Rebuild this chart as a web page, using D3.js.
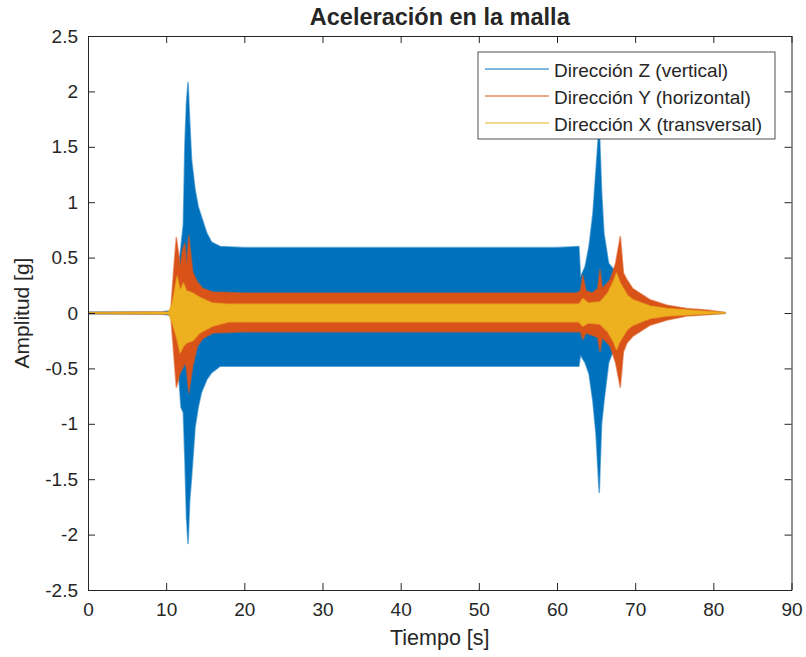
<!DOCTYPE html>
<html>
<head>
<meta charset="utf-8">
<script src="https://cdn.jsdelivr.net/npm/d3@7"></script>
<style>
  html, body { margin: 0; padding: 0; background: #fff; }
  svg { display: block; }
  text { font-family: "Liberation Sans", Arial, Helvetica, sans-serif; fill: #262626; }
</style>
</head>
<body>
<svg id="chart" width="806" height="657"></svg>
<script>
// ---- Data (envelope of each acceleration record) ----
const seriesNames = ["Dirección Z (vertical)", "Dirección Y (horizontal)", "Dirección X (transversal)"];
const seriesColors = ["#0072BD", "#D95319", "#EDB120"];

// Z (vertical) envelope
const zTime  = [0, 5, 9.5, 10.5, 11.0, 11.5, 11.9, 12.2, 12.4, 12.6, 12.8, 13.0, 13.25, 13.7, 14.1, 14.5, 15.2, 15.8, 16.9, 20, 30, 40, 50, 60, 62.8, 63.0, 63.6, 64.1, 64.6, 65.0, 65.4, 65.7, 66.0, 66.6, 67.4, 68.5, 70, 72, 75, 78, 81.5];
const zUpper = [0.008, 0.008, 0.01, 0.02, 0.1, 0.35, 0.6, 0.8, 1.53, 1.9, 2.08, 1.74, 1.38, 1.11, 0.96, 0.87, 0.72, 0.64, 0.6, 0.59, 0.59, 0.59, 0.59, 0.59, 0.6, 0.32, 0.42, 0.6, 0.9, 1.3, 1.7, 1.1, 0.72, 0.45, 0.38, 0.25, 0.12, 0.06, 0.03, 0.015, 0.002];
const zLower = [-0.008, -0.008, -0.01, -0.02, -0.1, -0.45, -0.85, -0.9, -1.33, -1.84, -2.08, -1.7, -1.48, -1.03, -0.85, -0.72, -0.6, -0.54, -0.48, -0.48, -0.48, -0.48, -0.48, -0.48, -0.48, -0.38, -0.45, -0.55, -0.8, -1.1, -1.62, -1.0, -0.8, -0.45, -0.3, -0.22, -0.1, -0.05, -0.025, -0.012, -0.002];

// Y (horizontal) envelope
const yTime  = [0, 10.3, 10.6, 11.0, 11.3, 11.8, 12.1, 12.4, 12.6, 12.9, 13.4, 14.0, 14.7, 16.0, 20, 40, 62.5, 63.0, 63.3, 63.7, 64.5, 65.2, 65.5, 65.8, 66.8, 67.5, 68.1, 68.5, 68.95, 69.7, 71.9, 74.1, 76.6, 79.2, 81.5];
const yUpper = [0.005, 0.01, 0.03, 0.42, 0.68, 0.42, 0.57, 0.63, 0.42, 0.7, 0.37, 0.28, 0.22, 0.19, 0.18, 0.18, 0.18, 0.2, 0.34, 0.2, 0.18, 0.22, 0.39, 0.22, 0.3, 0.45, 0.69, 0.36, 0.3, 0.22, 0.12, 0.07, 0.04, 0.027, 0.005];
const yLower = [-0.005, -0.01, -0.03, -0.39, -0.67, -0.54, -0.5, -0.45, -0.5, -0.72, -0.48, -0.3, -0.23, -0.18, -0.17, -0.17, -0.17, -0.17, -0.24, -0.18, -0.2, -0.22, -0.35, -0.22, -0.3, -0.45, -0.67, -0.35, -0.27, -0.21, -0.11, -0.063, -0.027, -0.015, -0.002];

// X (transversal) envelope
const xTime  = [0, 10.3, 10.8, 11.4, 11.8, 12.2, 12.6, 13.4, 14.3, 15.9, 18, 40, 62.8, 63.3, 64.0, 65.5, 66.5, 67.3, 67.6, 68.1, 69.0, 69.7, 71.9, 74.1, 78, 81.5];
const xUpper = [0.004, 0.008, 0.09, 0.33, 0.2, 0.27, 0.2, 0.18, 0.14, 0.09, 0.08, 0.08, 0.08, 0.13, 0.09, 0.1, 0.18, 0.3, 0.36, 0.27, 0.16, 0.12, 0.063, 0.04, 0.02, 0.005];
const xLower = [-0.004, -0.008, -0.09, -0.24, -0.36, -0.3, -0.27, -0.25, -0.18, -0.12, -0.08, -0.08, -0.08, -0.12, -0.09, -0.1, -0.17, -0.27, -0.33, -0.25, -0.15, -0.11, -0.05, -0.027, -0.012, -0.002];

const xTicks = [0, 10, 20, 30, 40, 50, 60, 70, 80, 90];
const yTicks = [-2.5, -2, -1.5, -1, -0.5, 0, 0.5, 1, 1.5, 2, 2.5];
const titleText = "Aceleración en la malla";
const xLabelText = "Tiempo [s]";
const yLabelText = "Amplitud [g]";

// ---- Layout ----
const svg = d3.select("#chart");
const L = 88, R = 791.5, T = 36, B = 590;
const x = d3.scaleLinear().domain([0, 90]).range([L, R]);
const y = d3.scaleLinear().domain([-2.5, 2.5]).range([B, T]);
const axisColor = "#262626";

svg.append("rect").attr("x", 0).attr("y", 0).attr("width", 806).attr("height", 657).attr("fill", "#fff");

const clip = svg.append("defs").append("clipPath").attr("id", "plotclip");
clip.append("rect").attr("x", L).attr("y", T).attr("width", R - L).attr("height", B - T);

const series = [
  { t: zTime, up: zUpper, lo: zLower },
  { t: yTime, up: yUpper, lo: yLower },
  { t: xTime, up: xUpper, lo: xLower }
];

const area = d3.area()
  .x(d => x(d.t))
  .y0(d => y(d.lo))
  .y1(d => y(d.up));

const plot = svg.append("g").attr("clip-path", "url(#plotclip)");
series.forEach((s, i) => {
  const pts = s.t.map((t, k) => ({ t: t, up: s.up[k], lo: s.lo[k] }));
  plot.append("path")
    .datum(pts)
    .attr("d", area)
    .attr("fill", seriesColors[i])
    .attr("stroke", seriesColors[i])
    .attr("stroke-opacity", 0.55)
    .attr("stroke-width", 1.6)
    .attr("stroke-linejoin", "round");
});

// ---- Axes ----
function styleAxis(g) {
  g.selectAll("path.domain").attr("stroke", axisColor).attr("stroke-width", 1);
  g.selectAll(".tick line").attr("stroke", axisColor).attr("stroke-width", 1);
  g.selectAll(".tick text").attr("fill", axisColor)
    .style("font-family", "'Liberation Sans', Arial, Helvetica, sans-serif")
    .style("font-size", "19px");
}
const fmt = d => String(d);

const gx = svg.append("g").attr("transform", `translate(0,${B})`)
  .call(d3.axisBottom(x).tickValues(xTicks).tickFormat(fmt).tickSizeInner(-7).tickSizeOuter(0).tickPadding(13));
styleAxis(gx);
const gxTop = svg.append("g").attr("transform", `translate(0,${T})`)
  .call(d3.axisTop(x).tickValues(xTicks).tickFormat("").tickSizeInner(-7).tickSizeOuter(0));
styleAxis(gxTop);
const gy = svg.append("g").attr("transform", `translate(${L},0)`)
  .call(d3.axisLeft(y).tickValues(yTicks).tickFormat(fmt).tickSizeInner(-7).tickSizeOuter(0).tickPadding(10));
styleAxis(gy);
const gyRight = svg.append("g").attr("transform", `translate(${R},0)`)
  .call(d3.axisRight(y).tickValues(yTicks).tickFormat("").tickSizeInner(-7).tickSizeOuter(0));
styleAxis(gyRight);

// ---- Labels ----
svg.append("text")
  .attr("x", (L + R) / 2).attr("y", 25)
  .attr("text-anchor", "middle")
  .style("font-size", "23.5px").style("font-weight", "bold")
  .attr("fill", "#000")
  .text(titleText);

svg.append("text")
  .attr("x", (L + R) / 2).attr("y", 645)
  .attr("text-anchor", "middle")
  .style("font-size", "21.5px")
  .text(xLabelText);

svg.append("text")
  .attr("transform", `translate(29,${(T + B) / 2}) rotate(-90)`)
  .attr("text-anchor", "middle")
  .style("font-size", "21px")
  .text(yLabelText);

// ---- Legend ----
const lg = svg.append("g");
lg.append("rect")
  .attr("x", 478).attr("y", 52).attr("width", 297).attr("height", 87)
  .attr("fill", "#fff").attr("stroke", axisColor).attr("stroke-width", 0.8);
seriesNames.forEach((name, i) => {
  const ly = 69 + i * 27;
  lg.append("line")
    .attr("x1", 485).attr("x2", 549).attr("y1", ly).attr("y2", ly)
    .attr("stroke", seriesColors[i]).attr("stroke-width", 1);
  lg.append("text")
    .attr("x", 554).attr("y", ly + 7.5)
    .style("font-size", "19px")
    .attr("fill", "#000")
    .text(name);
});
</script>
</body>
</html>
